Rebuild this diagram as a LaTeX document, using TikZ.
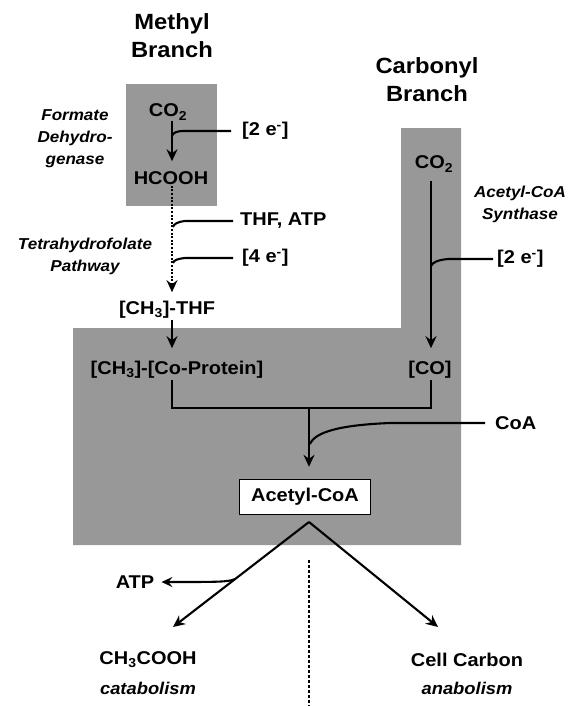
\documentclass[tikz,border=0pt]{standalone}
\usepackage{fontspec}
\setmainfont{Liberation Sans}[FakeStretch=1.08]
\usetikzlibrary{arrows.meta}
\definecolor{boxgray}{RGB}{152,152,152}
\begin{document}
\begin{tikzpicture}[x=1pt,y=-1pt,
  lbl/.style={font=\fontsize{18.5}{20}\selectfont\bfseries, inner sep=1pt},
  ital/.style={font=\fontsize{15.8}{22}\selectfont\bfseries\itshape, align=center, inner sep=1pt},
  ttl/.style={font=\fontsize{22}{28}\selectfont\bfseries, align=center, inner sep=1pt},
  ln/.style={line width=2.1pt},
  arr/.style={ln, -{Stealth[length=12pt,width=11pt,inset=4pt]}},
  ]
\useasboundingbox (0,0) rectangle (570,706);
% gray areas
\fill[boxgray] (126,84) rectangle (217,206);
\fill[boxgray] (401,128) -- (461,128) -- (461,545) -- (73,545) -- (73,328) -- (401,328) -- cycle;
% titles
\node[ttl] (mtitle) at (172,36) {Methyl\\Branch};
\node[ttl] (ctitle) at (427,80) {Carbonyl\\Branch};
% methyl branch
\node[lbl] (co2a) at (168,112) {CO\textsubscript{2}};
\node[lbl, anchor=west] (e2a) at (241,131) {[2 e\textsuperscript{-}]};
\node[lbl] (hcooh) at (171,178) {HCOOH};
\node[ital] (fdh) at (75,139) {Formate\\Dehydro-\\genase};
\node[lbl, anchor=west] (thfatp) at (239,221) {THF, ATP};
\node[lbl, anchor=west] (e4) at (241,258) {[4 e\textsuperscript{-}]};
\node[ital] (thp) at (85,256) {Tetrahydrofolate\\Pathway};
\node[lbl] (ch3thf) at (167,310) {[CH\textsubscript{3}]-THF};
\node[lbl] (ch3co) at (177,370) {[CH\textsubscript{3}]-[Co-Protein]};
% carbonyl branch
\node[lbl] (co2b) at (434,164) {CO\textsubscript{2}};
\node[ital] (acs) at (520,204) {Acetyl-CoA\\Synthase};
\node[lbl, anchor=west] (e2b) at (496,259) {[2 e\textsuperscript{-}]};
\node[lbl] (co) at (430,370) {[CO]};
\node[lbl, anchor=west] (coa) at (494,423) {CoA};
\node[lbl, draw, line width=1.4pt, fill=white, minimum width=131pt, minimum height=35pt] (acoa) at (305,497) {Acetyl-CoA};
\node[lbl] (atp) at (135,582) {ATP};
\node[lbl] (ch3cooh) at (148,660) {CH\textsubscript{3}COOH};
\node[ital, font=\fontsize{17}{20}\selectfont\bfseries\itshape] (catab) at (148,688) {catabolism};
\node[lbl] (cellc) at (467,660) {Cell Carbon};
\node[ital, font=\fontsize{17}{20}\selectfont\bfseries\itshape] (anab) at (467,688) {anabolism};
% helper coordinates
\coordinate (mx) at (172,0);
\coordinate (cx) at (431,0);
\coordinate (ax) at (309,0);
\coordinate (j1) at (172,136);
\coordinate (j2) at (173,227);
\coordinate (j3) at (173,263);
\coordinate (j4) at (431,266);
\coordinate (mL) at (172,408);
\coordinate (mR) at (431,408);
\coordinate (mC) at (309,408);
\coordinate (j5) at (310,444);
\coordinate (apex) at (309,522);
\coordinate (tL) at (173,627);
\coordinate (tR) at (438,627);
\coordinate (j6) at (235,579);
\coordinate (dtop) at (309,560);
\coordinate (dbot) at (309,706);
% connectors methyl
\draw[arr, shorten >=9pt] (co2a.south -| mx) -- (hcooh.north -| mx);
\draw[ln] ([xshift=-10pt]e2a.west) -- (184,131) .. controls (176,131) and (173,133) .. (j1);
\draw[arr, dash pattern=on 2pt off 1.6pt] (hcooh.south -| mx) -- ([yshift=8pt]ch3thf.north -| mx);
\draw[ln] ([xshift=-6pt]thfatp.west) -- (185,221) .. controls (177,222) and (174,224) .. (j2);
\draw[ln] ([xshift=-8pt]e4.west) -- (185,258) .. controls (177,259) and (174,260) .. (j3);
\draw[arr] (ch3thf.south -| mx) -- ([yshift=12pt]ch3co.north -| mx);
% connectors carbonyl
\draw[arr] ([yshift=-8pt]co2b.south -| cx) -- ([yshift=12pt]co.north -| cx);
\draw[ln] ([xshift=-3pt]e2b.west) -- (448,259) .. controls (438,260) and (433,262) .. (j4);
% merge
\draw[ln] (ch3co.south -| mx) -- (mL) -- (mR) -- (co.south -| cx);
\draw[arr] (mC) -- ([yshift=12pt]acoa.north -| ax);
\draw[ln] ([xshift=-9pt]coa.west) -- (390,423) .. controls (340,425) and (315,432) .. (j5);
% outputs
\draw[arr] (apex) -- (tL);
\draw[arr] (apex) -- (tR);
\draw[ln, -{Stealth[length=11pt,width=10pt,inset=4pt]}] (j6) .. controls (228,582) and (220,582) .. ([xshift=6pt]atp.east);
\draw[line width=1.2pt, dash pattern=on 3pt off 2pt] (dtop) -- (dbot);
\end{tikzpicture}
\end{document}
